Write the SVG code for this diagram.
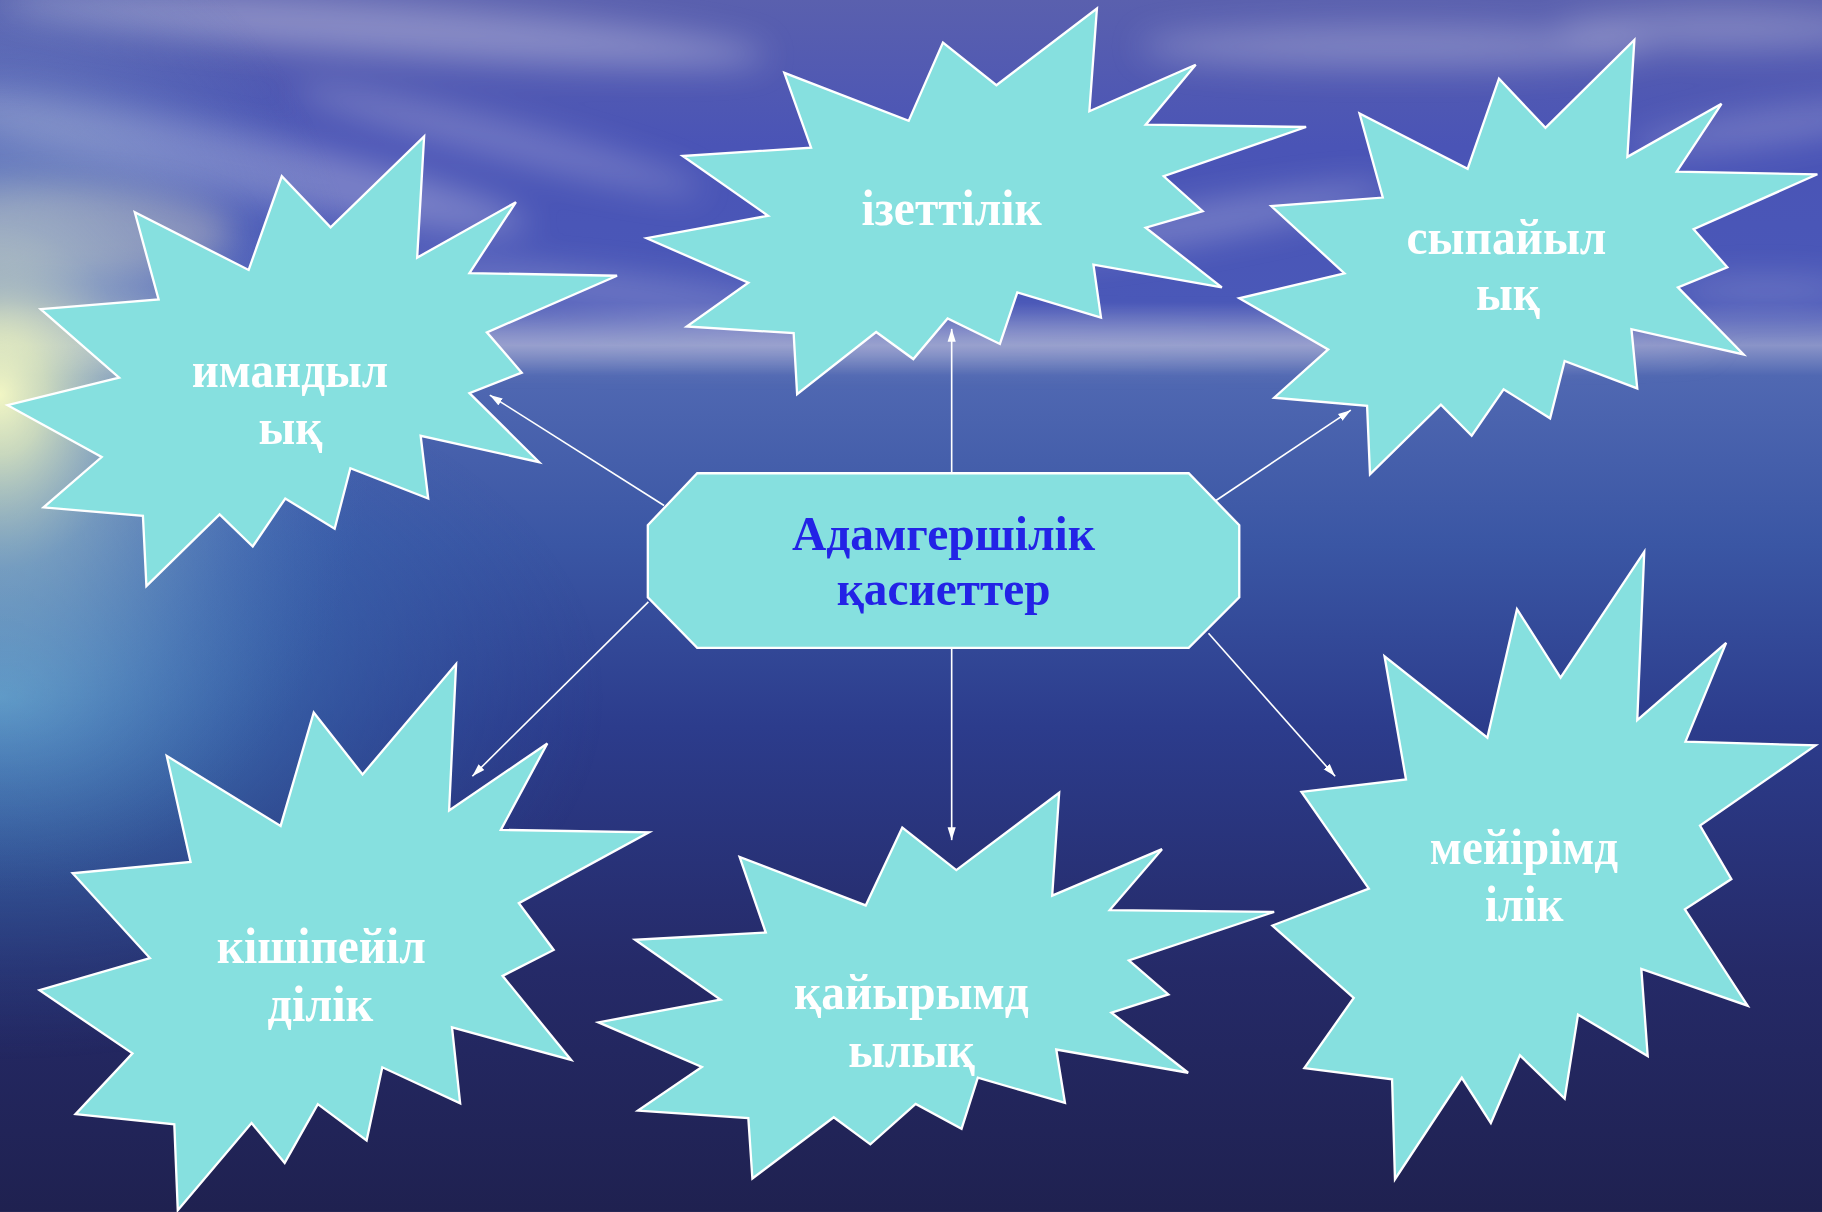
<svg xmlns="http://www.w3.org/2000/svg" width="1822" height="1212" viewBox="0 0 1822 1212">
<defs>
<style>
.star{fill:#86E0DF;stroke:#FFFFFF;stroke-width:2;stroke-linejoin:miter}
.lbl{font-family:"Liberation Serif","Times New Roman",serif;font-weight:bold;font-size:43px;fill:#FFFFFF;text-anchor:middle}
.ctr{font-family:"Liberation Serif","Times New Roman",serif;font-weight:bold;font-size:41px;fill:#2323E6;text-anchor:middle}
.conn{stroke:#FFFFFF;stroke-width:1.4;fill:none;marker-end:url(#arr)}
</style>
<marker id="arr" markerUnits="userSpaceOnUse" markerWidth="12" markerHeight="8" refX="11" refY="4" orient="auto">
<path d="M0,0.5 L11,4 L0,7.5 z" fill="#FFFFFF"/>
</marker>
<linearGradient id="bg" x1="0" y1="0" x2="0" y2="1">
<stop offset="0" stop-color="#5a60ae"/>
<stop offset="0.12" stop-color="#4a54b6"/>
<stop offset="0.25" stop-color="#4a58b8"/>
<stop offset="0.285" stop-color="#8a94c8"/>
<stop offset="0.31" stop-color="#5068b2"/>
<stop offset="0.45" stop-color="#3a56a4"/>
<stop offset="0.6" stop-color="#2c3c8c"/>
<stop offset="0.8" stop-color="#252a68"/>
<stop offset="1" stop-color="#1f2150"/>
</linearGradient>
<radialGradient id="glow" gradientUnits="userSpaceOnUse" cx="0" cy="340" r="430" gradientTransform="translate(0,340) scale(0.75,1) translate(0,-340)">
<stop offset="0" stop-color="#f2f6c4" stop-opacity="1"/>
<stop offset="0.12" stop-color="#e0ecc0" stop-opacity="0.85"/>
<stop offset="0.35" stop-color="#a8c8cc" stop-opacity="0.5"/>
<stop offset="0.7" stop-color="#7aa0cc" stop-opacity="0.2"/>
<stop offset="1" stop-color="#5080c0" stop-opacity="0"/>
</radialGradient>
<radialGradient id="sea" gradientUnits="userSpaceOnUse" cx="0" cy="600" r="520" gradientTransform="translate(0,600) scale(1,0.6) translate(0,-600)">
<stop offset="0" stop-color="#60b8dc" stop-opacity="0.7"/>
<stop offset="0.5" stop-color="#4488c4" stop-opacity="0.35"/>
<stop offset="1" stop-color="#3060b0" stop-opacity="0"/>
</radialGradient>
<filter id="blur" x="-50%" y="-50%" width="200%" height="200%">
<feGaussianBlur stdDeviation="14"/>
</filter>
</defs>
<g transform="scale(1.162)">
<g id="background">
<rect x="0" y="0" width="1568" height="1043" fill="url(#bg)"/>
<g filter="url(#blur)" fill="#e8e4f0">
<ellipse cx="330" cy="25" rx="330" ry="22" opacity="0.35" transform="rotate(4 330 25)"/>
<ellipse cx="200" cy="140" rx="260" ry="28" opacity="0.3" transform="rotate(12 200 140)"/>
<ellipse cx="430" cy="120" rx="180" ry="16" opacity="0.25" transform="rotate(14 430 120)"/>
<ellipse cx="520" cy="250" rx="180" ry="14" opacity="0.25" transform="rotate(6 520 250)"/>
<ellipse cx="1200" cy="40" rx="220" ry="18" opacity="0.3"/>
<ellipse cx="1480" cy="25" rx="140" ry="16" opacity="0.3"/>
<ellipse cx="1520" cy="110" rx="120" ry="14" opacity="0.25" transform="rotate(-8 1520 110)"/>
<ellipse cx="1040" cy="190" rx="160" ry="14" opacity="0.3" transform="rotate(-10 1040 190)"/>
<ellipse cx="1520" cy="250" rx="80" ry="10" opacity="0.25"/>
<ellipse cx="780" cy="295" rx="700" ry="10" opacity="0.3"/>
</g>
<g filter="url(#blur)" fill="#e8d8b8">
<ellipse cx="60" cy="200" rx="140" ry="40" opacity="0.4"/>
<ellipse cx="80" cy="290" rx="140" ry="30" opacity="0.4"/>
</g>
<rect x="0" y="0" width="1568" height="1043" fill="url(#sea)"/>
<rect x="0" y="0" width="1568" height="1043" fill="url(#glow)"/>
</g>
<g id="connectors">
<line class="conn" x1="571.5" y1="435" x2="421.5" y2="340"/>
<line class="conn" x1="819" y1="407" x2="819" y2="283"/>
<line class="conn" x1="1040" y1="435" x2="1162.5" y2="353"/>
<line class="conn" x1="558" y1="518" x2="406.5" y2="668"/>
<line class="conn" x1="819" y1="558" x2="819" y2="723"/>
<line class="conn" x1="1040" y1="545" x2="1149" y2="668"/>
</g>
<g id="center">
<polygon points="600,407.3 1023,407.3 1066.5,452 1066.5,514 1023,557.5 600,557.5 557.5,514 557.5,452" fill="#86E0DF" stroke="#FFFFFF" stroke-width="2"/>
<text class="ctr" x="812" y="473.3" textLength="261" lengthAdjust="spacingAndGlyphs">Адамгершілік</text>
<text class="ctr" x="812" y="521" textLength="184" lengthAdjust="spacingAndGlyphs">қасиеттер</text>
</g>
<g id="node-imandylyk">
<polygon class="star" points="365,117.3 359,221.7 444,174 404,235 531,237.3 419,286 449,320.7 404,338.3 464,397.7 362,375 368.5,429 301.5,403 288,455 245.5,429 217.5,470.3 189,442.7 126,504.3 123,444 37.5,436.7 87.5,393.3 6.5,348.7 102.5,325 35,266 136.5,257.7 116,182.7 214,232.3 242.5,151.7 284.5,195.7"/>
<text class="lbl" x="249.5" y="333" textLength="169" lengthAdjust="spacingAndGlyphs">имандыл</text>
<text class="lbl" x="250" y="381.7" textLength="55" lengthAdjust="spacingAndGlyphs">ық</text>
</g>
<g id="node-izettilik">
<polygon class="star" points="675,62.7 698,127 587.5,134.3 661,185.7 556.5,205 644,243.3 591,281 683,286.7 686,339.3 754,285.7 786,309 815.5,274 860.5,296 875.5,251.7 947.5,273.3 941,227.7 1051.5,247.3 986,196 1035,181.7 1001.5,151.7 1124,109.3 986,107.3 1029,55.7 937.5,95.7 944,7.3 857.5,73.3 811.5,36.7 782,104"/>
<text class="lbl" x="819" y="193.3" textLength="155" lengthAdjust="spacingAndGlyphs">ізеттілік</text>
</g>
<g id="node-sypaiylyk">
<polygon class="star" points="1406.5,34.3 1400.5,135 1481.5,89.3 1443,147.7 1564,150 1457.5,197.3 1486.5,230 1444,247.3 1500.5,305 1404,283.3 1409,334.3 1346.5,310.7 1334,360 1294,335 1266.5,375 1240,348.3 1179,408.3 1176.5,349.3 1096.5,342.3 1143,300.7 1066.5,256.7 1157,235.3 1094,177.3 1190,170 1170,97.7 1263,145.3 1290,67.7 1330,110"/>
<text class="lbl" x="1296.5" y="218.3" textLength="172" lengthAdjust="spacingAndGlyphs">сыпайыл</text>
<text class="lbl" x="1297.7" y="266.7" textLength="55" lengthAdjust="spacingAndGlyphs">ық</text>
</g>
<g id="node-kishipeiildilik">
<polygon class="star" points="392.5,571.5 386.5,697.5 471,639.8 431,714.2 558.5,716.2 446.5,777.2 476.5,817.5 432.5,839.8 491.5,912.2 389,884.2 396,949.5 329,918.5 315.5,981.5 273.5,950.2 245,1000.8 216.5,966.5 153,1041.5 150,967.5 65,958.8 114,906.5 34,852.2 129,824.5 62.5,751.5 164,741.8 143.5,650.5 241.5,710.8 270,613.2 312,666.5"/>
<text class="lbl" x="276.5" y="828.8" textLength="180" lengthAdjust="spacingAndGlyphs">кішіпейіл</text>
<text class="lbl" x="275.8" y="878.8" textLength="91" lengthAdjust="spacingAndGlyphs">ділік</text>
</g>
<g id="node-kaiyrymdylyk">
<polygon class="star" points="636.5,737.5 659,802.5 546.5,808.8 620,860.2 515,879.8 604,918.2 549,955.8 644,962.2 647.5,1014.2 717.5,961.5 749,984.8 788,950 827.5,971.5 841.5,927.5 916.5,949.2 909,903.2 1022.5,923.2 956.5,871.5 1005.5,855.8 971.5,826.5 1096.5,784.8 955,783.2 1000,730.8 905.5,770.8 911.5,682.2 823,748.8 776.5,712.2 745,779.2"/>
<text class="lbl" x="784.3" y="868.2" textLength="202" lengthAdjust="spacingAndGlyphs">қайырымд</text>
<text class="lbl" x="784.5" y="918.2" textLength="109" lengthAdjust="spacingAndGlyphs">ылық</text>
</g>
<g id="node-meiirimdilik">
<polygon class="star" points="1305.5,524.2 1343,583.2 1415,475 1409,619.8 1485.5,553.2 1450.5,638.2 1562.5,641.5 1463,710.5 1490,756.5 1450,782.5 1504,865.5 1412.5,833.8 1418,908.8 1358,873.2 1346.5,945.5 1308,908.2 1283,966.5 1258,927.5 1200.5,1014.8 1198,928.8 1122.5,919.2 1165,858.8 1095,796.5 1178,764.8 1120,681.5 1210,670.8 1191.5,564.8 1280,634.8"/>
<text class="lbl" x="1311.5" y="743.2" textLength="162" lengthAdjust="spacingAndGlyphs">мейірімд</text>
<text class="lbl" x="1311.7" y="792.5" textLength="67.5" lengthAdjust="spacingAndGlyphs">ілік</text>
</g>
</g>
</svg>
